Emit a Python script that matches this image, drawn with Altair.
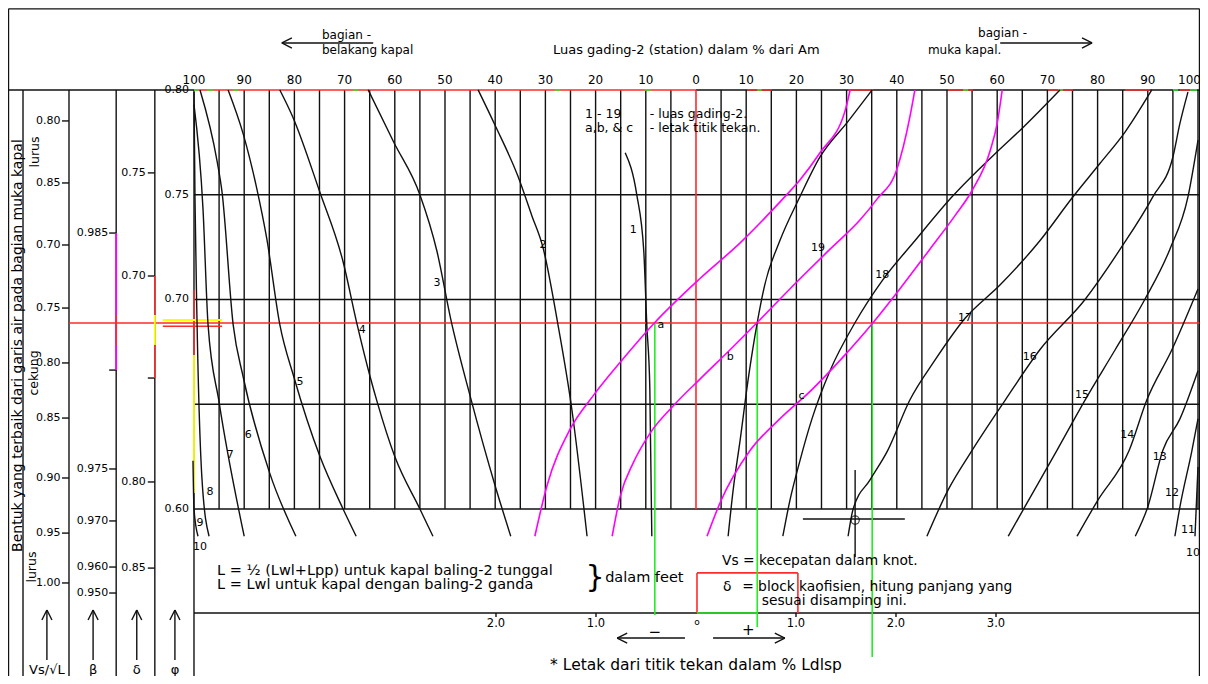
import altair as alt
import pandas as pd

FONT = "DejaVu Sans"

# ---------------- station-area curves (position in % of Am: stern side negative, bow side positive) vs prismatic coefficient phi
st1_pos = [-14.1, -11.8, -10.4, -9.8, -9.2, -8.8]
st1_phi = [0.770, 0.750, 0.723, 0.688, 0.658, 0.587]
st2_pos = [-43.4, -40.0, -35.5, -32.7, -30.5, -27.5, -24.7, -21.7]
st2_phi = [0.800, 0.783, 0.759, 0.740, 0.725, 0.688, 0.647, 0.587]
st3_pos = [-65.3, -60.2, -55.0, -51.6, -48.8, -45.0, -40.0, -36.9]
st3_phi = [0.800, 0.775, 0.750, 0.723, 0.690, 0.654, 0.611, 0.587]
st4_pos = [-82.9, -80.3, -74.9, -70.3, -67.5, -64.9, -63.5, -60.0, -55.0, -52.4]
st4_phi = [0.800, 0.787, 0.751, 0.718, 0.688, 0.663, 0.651, 0.625, 0.600, 0.587]
st5_pos = [-93.2, -90.2, -87.5, -85.5, -82.9, -80.1, -74.9, -70.3, -67.7]
st5_phi = [0.800, 0.779, 0.753, 0.729, 0.688, 0.663, 0.625, 0.600, 0.587]
st6_pos = [-98.8, -95.4, -94.4, -92.2, -90.2, -84.9, -79.7]
st6_phi = [0.800, 0.766, 0.751, 0.688, 0.663, 0.617, 0.587]
st7_pos = [-100.0, -98.2, -97.2, -95.0, -90.0]
st7_phi = [0.793, 0.743, 0.688, 0.651, 0.587]
st8_pos = [-100.0, -99.8, -99.4, -98.4, -97.0]
st8_phi = [0.799, 0.748, 0.690, 0.614, 0.587]
st9_pos = [-100.2, -100.0, -99.2]
st9_phi = [0.623, 0.600, 0.587]
st11_pos = [100.0, 99.4]
st11_phi = [0.620, 0.587]
st12_pos = [100.0, 98.8, 96.4, 95.4]
st12_phi = [0.643, 0.628, 0.601, 0.587]
st13_pos = [100.0, 96.4, 93.0, 90.0, 87.5]
st13_phi = [0.666, 0.643, 0.628, 0.601, 0.587]
st14_pos = [100.0, 94.8, 89.8, 86.3, 80.0, 75.9]
st14_phi = [0.705, 0.676, 0.652, 0.628, 0.604, 0.587]
st15_pos = [100.0, 98.0, 94.4, 89.4, 83.5, 77.5, 71.9, 65.5, 62.2]
st15_phi = [0.776, 0.749, 0.724, 0.700, 0.676, 0.652, 0.628, 0.601, 0.587]
st16_pos = [98.0, 96.4, 95.0, 91.0, 84.5, 77.5, 68.5, 61.6, 55.0, 50.2, 46.0]
st16_phi = [0.799, 0.784, 0.768, 0.749, 0.724, 0.700, 0.676, 0.652, 0.628, 0.609, 0.587]
st17_pos = [90.8, 85.5, 80.5, 75.1, 68.5, 60.6, 53.6, 47.6, 42.6, 38.2, 34.7, 31.3, 30.3]
st17_phi = [0.800, 0.780, 0.765, 0.749, 0.728, 0.707, 0.691, 0.671, 0.652, 0.628, 0.614, 0.600, 0.587]
st18_pos = [72.5, 65.1, 60.2, 51.0, 43.6, 37.1, 31.7, 26.7, 23.1, 20.7, 18.7, 17.3]
st18_phi = [0.800, 0.782, 0.771, 0.749, 0.728, 0.709, 0.689, 0.666, 0.643, 0.623, 0.604, 0.587]
st19_pos = [35.1, 30.3, 24.7, 20.7, 16.7, 13.7, 12.2, 10.4, 8.8, 7.4, 6.4]
st19_phi = [0.800, 0.785, 0.768, 0.749, 0.728, 0.707, 0.689, 0.662, 0.633, 0.609, 0.587]

# ---------------- centre-of-buoyancy curves a, b, c (magenta)
ca_pos = [-32.1, -29.7, -25.1, -20.5, -15.1, -8.2, 0.8, 8.8, 17.3, 20.7, 24.7, 29.7, 30.7]
ca_phi = [0.587, 0.611, 0.638, 0.654, 0.670, 0.689, 0.710, 0.727, 0.748, 0.757, 0.770, 0.790, 0.800]
cb_pos = [-16.7, -15.1, -12.5, -9.2, -4.6, 0.8, 6.8, 12.2, 18.7, 26.7, 32.7, 36.1, 40.0, 42.6, 43.6]
cb_phi = [0.587, 0.606, 0.622, 0.636, 0.649, 0.662, 0.676, 0.689, 0.705, 0.724, 0.738, 0.748, 0.762, 0.787, 0.800]
cc_pos = [2.2, 4.8, 10.8, 16.7, 23.1, 29.1, 35.3, 40.6, 46.6, 51.6, 55.0, 58.6, 60.0, 61.0]
cc_phi = [0.587, 0.603, 0.628, 0.643, 0.657, 0.672, 0.689, 0.705, 0.724, 0.740, 0.752, 0.771, 0.784, 0.800]

# ---------------- axes / scales
top_vals = list(range(-100, 101, 10))
grid_x = list(range(-100, 101, 5))
grid_phi = [0.75, 0.70, 0.65, 0.60]
phi_vals = [0.80, 0.75, 0.70, 0.60]
phi_text = ["0.80", "0.75", "0.70", "0.60"]
vs_text = ["0.80", "0.85", "0.70", "0.75", "0.80", "0.85", "0.90", "0.95", "1.00"]
vs_phi = [0.7852, 0.7556, 0.7260, 0.6959, 0.6697, 0.6434, 0.6148, 0.5885, 0.5647]
beta_text = ["0.985", "", "0.975", "0.970", "0.960", "0.950"]
beta_phi = [0.7317, 0.6663, 0.6191, 0.5943, 0.5723, 0.5599]
delta_text = ["0.75", "0.70", "", "0.80", "0.85"]
delta_phi = [0.7604, 0.7112, 0.6625, 0.6129, 0.5718]
bot_vals = [-2.0, -1.0, 1.0, 2.0, 3.0]
bot_text = ["2.0", "1.0", "1.0", "2.0", "3.0"]
BOT_UNIT = 100 / 5.02          # % of length per 1.0 of the lower scale
PHI_D = 0.6888                 # chosen prismatic coefficient (red line)
cb_at_design = [-8.2, 12.2, 35.1]

# ---------------- frame of the drawing
XMIN, XMAX = -137.05, 100.4
YMIN, YMAX = 0.5203, 0.8391
xs = alt.Scale(domain=[XMIN, XMAX], nice=False, zero=False)
ys = alt.Scale(domain=[YMIN, YMAX], nice=False, zero=False)
LEFT, RIGHT, TOP = XMIN + 0.1, XMAX - 0.1, YMAX - 0.0004
COLS = [-134.06, -124.9, -115.5, -107.8]
ML = -100.0
C_VS, C_B, C_D = -124.9, -115.5, -107.8
BOT = 0.5504


def seg_layer(segs, color, width=1.2):
    df = pd.DataFrame(segs, columns=["x", "x2", "y", "y2"])
    return alt.Chart(df).mark_rule(color=color, strokeWidth=width).encode(
        x=alt.X("x:Q", scale=xs, axis=None), x2="x2:Q",
        y=alt.Y("y:Q", scale=ys, axis=None), y2="y2:Q")


def text_layer(items, size=11, align="center", baseline="middle", angle=0, color="black", font=FONT):
    df = pd.DataFrame(items, columns=["x", "y", "t"])
    kw = dict(fontSize=size, align=align, baseline=baseline, color=color, font=font)
    if angle:
        kw["angle"] = angle
    return alt.Chart(df).mark_text(**kw).encode(
        x=alt.X("x:Q", scale=xs, axis=None), y=alt.Y("y:Q", scale=ys, axis=None), text="t:N")


def curve_layer(curves, color, width=1.3):
    rows = []
    for name, (px_, py_) in curves:
        for a, b in zip(px_, py_):
            rows.append({"c": name, "x": a, "y": b})
    df = pd.DataFrame(rows)
    return alt.Chart(df).mark_line(color=color, strokeWidth=width, interpolate="monotone").encode(
        x=alt.X("x:Q", scale=xs, axis=None), y=alt.Y("y:Q", scale=ys, axis=None),
        detail="c:N")


# ---- black line work
black = [(LEFT, RIGHT, TOP, TOP), (LEFT, LEFT, YMIN, TOP), (RIGHT, RIGHT, YMIN, TOP),
         (LEFT, ML, 0.80, 0.80), (0, RIGHT, 0.80, 0.80), (ML, RIGHT, BOT, BOT)]
black += [(c, c, YMIN, 0.80) for c in COLS + [ML]]
black += [(g, g, 0.60, 0.80) for g in grid_x if g not in (0, -100)]
black += [(ML, RIGHT, p, p) for p in grid_phi]
black += [(v * BOT_UNIT, v * BOT_UNIT, 0.5485, BOT) for v in bot_vals]
black += [(C_VS - 1.4, C_VS, p, p) for p in vs_phi]
black += [(C_B - 1.4, C_B, p, p) for p in beta_phi]
black += [(C_D - 1.4, C_D, p, p) for p in delta_phi]
# arrows
for xc in [-129.3, -120.1, -111.4, -103.8]:
    black += [(xc, xc, 0.5279, 0.5518), (xc - 1.0, xc, 0.5470, 0.5518), (xc, xc + 1.0, 0.5518, 0.5470)]
black += [(-82.5, -64.3, 0.8224, 0.8224), (-82.5, -80.5, 0.8224, 0.8248), (-82.5, -80.5, 0.8224, 0.8200)]
black += [(60.6, 78.9, 0.8224, 0.8224), (76.9, 78.9, 0.8248, 0.8224), (76.9, 78.9, 0.8200, 0.8224)]
black += [(-15.7, -2.2, 0.5384, 0.5384), (-15.7, -13.7, 0.5384, 0.5408), (-15.7, -13.7, 0.5384, 0.5360)]
black += [(3.4, 17.7, 0.5384, 0.5384), (15.7, 17.7, 0.5408, 0.5384), (15.7, 17.7, 0.5360, 0.5384)]
# cross-hair
black += [(21.3, 41.6, 0.5952, 0.5952), (31.7, 31.7, 0.5771, 0.6186)]

red = [(ML, 0, 0.80, 0.80), (0, 0, 0.60, 0.80), (C_VS, RIGHT, PHI_D, PHI_D),
       (-106.2, -94.4, 0.6872, 0.6872), (ML, ML, 0.6735, 0.7045),
       (C_D, C_D, 0.6926, 0.7112), (C_D, C_D, 0.6625, 0.6783), (C_B, C_B, 0.6783, 0.6926),
       (0.2, 20.3, 0.5695, 0.5695), (0.2, 0.2, BOT, 0.5695), (20.3, 20.3, BOT, 0.5695)]
red += [(a, b, 0.80, 0.80) for a, b in [(10.2, 15.1), (30.3, 35.3), (50.2, 55.2), (70.1, 75.1), (85.5, 90.4), (96.4, 98.4)]]
yellow = [(ML, ML, 0.6076, 0.6735), (C_D, C_D, 0.6783, 0.6926), (-106.2, -94.4, 0.6902, 0.6902)]
magenta_seg = [(C_B, C_B, 0.6663, 0.7317)]
green = [(x, x, b, PHI_D) for x, b in zip(cb_at_design, [0.5494, 0.5437, 0.5294])]
green += [(0.2, 12.2, BOT, BOT)]
green += [(a, b, 0.80, 0.80) for a, b in [(-100.0, -99.2), (-97.4, -96.2), (-92.2, -91.2), (-68.3, -67.3), (-28.1, -27.1),
                                          (-10.2, -9.0), (12.2, 13.1), (53.2, 54.2), (72.1, 73.1), (95.0, 96.0), (98.4, 99.8)]]

stations = [("1", (st1_pos, st1_phi)), ("2", (st2_pos, st2_phi)), ("3", (st3_pos, st3_phi)),
            ("4", (st4_pos, st4_phi)), ("5", (st5_pos, st5_phi)), ("6", (st6_pos, st6_phi)),
            ("7", (st7_pos, st7_phi)), ("8", (st8_pos, st8_phi)), ("9", (st9_pos, st9_phi)),
            ("11", (st11_pos, st11_phi)), ("12", (st12_pos, st12_phi)), ("13", (st13_pos, st13_phi)),
            ("14", (st14_pos, st14_phi)), ("15", (st15_pos, st15_phi)), ("16", (st16_pos, st16_phi)),
            ("17", (st17_pos, st17_phi)), ("18", (st18_pos, st18_phi)), ("19", (st19_pos, st19_phi))]
cob = [("a", (ca_pos, ca_phi)), ("b", (cb_pos, cb_phi)), ("c", (cc_pos, cc_phi))]

# ---- texts
top_lbl = [(min(v, 98.3), 0.8048, str(abs(v))) for v in top_vals]
phi_lbl = [(-101.0, p, t) for p, t in zip(phi_vals, phi_text)]
vs_lbl = [(-126.6, p, t) for p, t in zip(vs_phi, vs_text)]
beta_lbl = [(-117.1, p, t) for p, t in zip(beta_phi, beta_text)]
delta_lbl = [(-109.6, p, t) for p, t in zip(delta_phi, delta_text)]
bot_lbl = [(v * BOT_UNIT, 0.5451, t) for v, t in zip(bot_vals, bot_text)]
curve_lbl = [(-12.5, 0.7332, "1"), (-30.5, 0.7260, "2"), (-51.6, 0.7079, "3"), (-66.5, 0.6854, "4"),
             (-78.9, 0.6606, "5"), (-89.2, 0.6353, "6"), (-92.8, 0.6258, "7"), (-96.8, 0.6081, "8"),
             (-98.8, 0.5933, "9"), (-98.8, 0.5819, "10"), (24.3, 0.7246, "19"), (37.1, 0.7117, "18"),
             (53.6, 0.6912, "17"), (66.5, 0.6726, "16"), (76.9, 0.6544, "15"), (85.9, 0.6353, "14"),
             (92.4, 0.6248, "13"), (94.8, 0.6076, "12"), (98.0, 0.5900, "11"), (99.0, 0.5790, "10"),
             (-7.0, 0.6878, "a"), (6.8, 0.6726, "b"), (21.0, 0.6540, "c")]
notes_top = [(-74.5, 0.8263, "bagian -"), (-74.5, 0.8191, "belakang kapal"),
             (56.2, 0.8272, "bagian -"), (46.2, 0.8191, "muka kapal.")]
legend_a = [(-22.1, 0.7885, "1 - 19"), (-22.1, 0.7819, "a,b, & c")]
legend_b = [(-9.2, 0.7885, "- luas gading-2."), (-9.2, 0.7819, "- letak titik tekan.")]
notes_L = [(-95.4, 0.5704, "L = ½ (Lwl+Lpp) untuk kapal baling-2 tunggal"),
           (-95.4, 0.5637, "L = Lwl untuk kapal dengan baling-2 ganda")]
notes_right = [(5.2, 0.5752, "Vs = kecepatan dalam knot."),
               (5.4, 0.5628, "δ"),
               (9.2, 0.5628, "= block kaofisien, hitung panjang yang"),
               (13.1, 0.5561, "sesuai disamping ini.")]
signs = [(-8.2, 0.5413, "−"), (10.4, 0.5422, "+")]
symbols = [(-129.3, 0.5232, "Vs/√L"), (-120.1, 0.5232, "β"), (-111.4, 0.5232, "δ"), (-103.8, 0.5232, "φ")]
col_words = [(-131.7, 0.7704, "lurus"), (-131.8, 0.6649, "cekung"), (-132.3, 0.5723, "lurus")]
side_title = [(-135.15, 0.6780, "Bentuk yang terbaik dari garis air pada bagian muka kapal")]

cross = pd.DataFrame({"x": [31.7], "y": [0.5947]})
circle = alt.Chart(cross).mark_point(shape="circle", size=70, filled=False, color="black", strokeWidth=1.3).encode(
    x=alt.X("x:Q", scale=xs, axis=None), y=alt.Y("y:Q", scale=ys, axis=None))

layers = [
    seg_layer(black, "#111111", 1.4),
    seg_layer(magenta_seg, "#ff00ff", 1.8),
    seg_layer(red, "#ff2a2a", 1.6),
    seg_layer(yellow, "#ffff00", 1.8),
    seg_layer(green, "#22ee22", 1.6),
    curve_layer(stations, "#111111", 1.4),
    curve_layer(cob, "#ff00ff", 1.6),
    circle,
    text_layer(top_lbl, 12),
    text_layer(phi_lbl, 11, align="right"),
    text_layer(vs_lbl, 11, align="right"),
    text_layer(beta_lbl, 11, align="right"),
    text_layer(delta_lbl, 11, align="right"),
    text_layer(bot_lbl, 11.5),
    text_layer(curve_lbl, 11),
    text_layer(notes_top, 12, align="left"),
    text_layer([(-28.5, 0.8191, "Luas gading-2 (station) dalam % dari Am")], 13, align="left"),
    text_layer(legend_a, 12.5, align="left"),
    text_layer(legend_b, 12.5, align="left"),
    text_layer(notes_L, 14.5, align="left"),
    text_layer(notes_right, 13.8, align="left"),
    text_layer([(-20.1, 0.5670, "}")], 30),
    text_layer([(-18.1, 0.5671, "dalam feet")], 14.5, align="left"),
    text_layer([(0.2, 0.5461, "o")], 9),
    text_layer(signs, 15),
    text_layer([(0.0, 0.5255, "* Letak dari titik tekan dalam % Ldlsp")], 15.5),
    text_layer(symbols, 13),
    text_layer(col_words, 12.5, angle=270),
    text_layer(side_title, 14, angle=270),
]

chart = alt.layer(*layers).properties(
    width=1192, height=668, padding=0, autosize="none", background="white"
).configure_view(stroke=None)

chart.save("out.html", embed_options={"renderer": "svg", "actions": False})
